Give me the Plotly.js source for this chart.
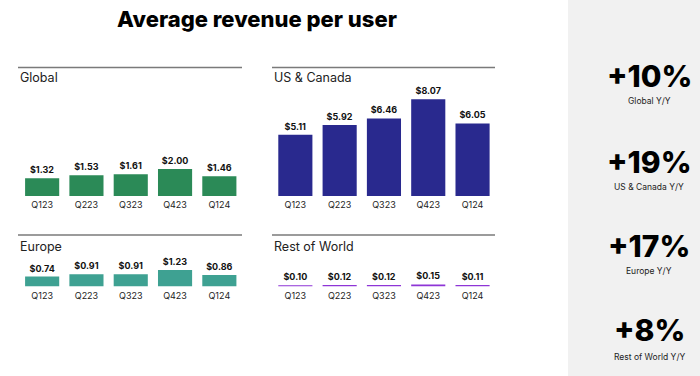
<!DOCTYPE html>
<html><head><meta charset="utf-8">
<script src="https://cdn.plot.ly/plotly-3.0.1.min.js"></script>
<style>html,body{margin:0;padding:0;background:#fff}#chart{width:700px;height:376px}</style>
</head><body><div id="chart"></div>
<script>
const quarters = ["Q123","Q223","Q323","Q423","Q124"];
const globalArpu = [1.32,1.53,1.61,2.00,1.46];
const usCanadaArpu = [5.11,5.92,6.46,8.07,6.05];
const europeArpu = [0.74,0.91,0.91,1.23,0.86];
const restOfWorldArpu = [0.10,0.12,0.12,0.15,0.11];
const panelTitles = ["Global","US & Canada","Europe","Rest of World"];
const statValues = ["+10%","+19%","+17%","+8%"];
const statLabels = ["Global Y/Y","US & Canada Y/Y","Europe Y/Y","Rest of World Y/Y"];

const W=700,H=376,F="Inter, 'Noto Sans', sans-serif";
const px=x=>x/W, py=y=>1-y/H;
function fmt(v){return "$"+v.toFixed(2);}
function bar(vals,color,xa,ya){
  return {type:"bar",x:quarters,y:vals,xaxis:xa,yaxis:ya,marker:{color:color},
    text:vals.map(fmt),textposition:"outside",cliponaxis:false,
    textfont:{family:F,size:9,color:"#111",weight:700},hoverinfo:"skip",width:0.77};
}
const data=[
  bar(globalArpu,"#2b8a57","x","y"),
  bar(usCanadaArpu,"#29298e","x2","y2"),
  bar(europeArpu,"#3ea192","x3","y3"),
  bar(restOfWorldArpu,"#8e35d6","x4","y4")
];
const leftDom=[px(20),px(241.5)], rightDom=[px(273.2),px(494.7)];
const topDom=[py(196),py(86)], botDom=[py(286.5),py(246)];
function xa(dom,anchor){return {domain:dom,anchor:anchor,showgrid:false,zeroline:false,showline:false,ticks:"",
  tickfont:{family:F,size:9,color:"#222"},fixedrange:true,ticklabelstandoff:2};}
function ya(dom,anchor,r){return {domain:dom,anchor:anchor,range:r,visible:false,fixedrange:true};}
const layout={
  width:W,height:H,margin:{l:0,r:0,t:0,b:0},paper_bgcolor:"#fff",plot_bgcolor:"rgba(0,0,0,0)",
  showlegend:false,bargap:0.23,
  title:{text:"Average revenue per user",x:px(257),xanchor:"center",y:py(19),yanchor:"middle",
    font:{family:F,size:22,color:"#000",weight:800}},
  xaxis:xa(leftDom,"y"), yaxis:ya(topDom,"x",[0,110/13.5]),
  xaxis2:xa(rightDom,"y2"), yaxis2:ya(topDom,"x2",[0,110/12]),
  xaxis3:xa(leftDom,"y3"), yaxis3:ya(botDom,"x3",[0,40.5/13.5]),
  xaxis4:xa(rightDom,"y4"), yaxis4:ya(botDom,"x4",[0,40.5/13.5]),
  shapes:[
    {type:"rect",xref:"paper",yref:"paper",x0:px(568),x1:1,y0:0,y1:1,fillcolor:"#f1f1f1",line:{width:0},layer:"below"},
    {type:"line",xref:"paper",yref:"paper",x0:px(18),x1:px(242),y0:py(67.5),y1:py(67.5),line:{color:"#7a7a7a",width:1.3}},
    {type:"line",xref:"paper",yref:"paper",x0:px(272),x1:px(495),y0:py(67.5),y1:py(67.5),line:{color:"#7a7a7a",width:1.3}},
    {type:"line",xref:"paper",yref:"paper",x0:px(18),x1:px(242),y0:py(235),y1:py(235),line:{color:"#7a7a7a",width:1.3}},
    {type:"line",xref:"paper",yref:"paper",x0:px(272),x1:px(495),y0:py(235),y1:py(235),line:{color:"#7a7a7a",width:1.3}}
  ],
  annotations:[]
};
const titlePos=[[18,78],[272,78],[18,246],[272,246]];
panelTitles.forEach((t,i)=>layout.annotations.push({text:t,xref:"paper",yref:"paper",x:px(titlePos[i][0]),y:py(titlePos[i][1]),
  xanchor:"left",yanchor:"middle",showarrow:false,font:{family:F,size:12.5,color:"#222"}}));
const statY=[[76,101],[162,187],[246,271],[330,357]];
statValues.forEach((t,i)=>{
  layout.annotations.push({text:t,xref:"paper",yref:"paper",x:px(649),y:py(statY[i][0]),xanchor:"center",yanchor:"middle",
    showarrow:false,font:{family:F,size:30,color:"#000",weight:800}});
  layout.annotations.push({text:statLabels[i],xref:"paper",yref:"paper",x:px(649),y:py(statY[i][1]),xanchor:"center",yanchor:"middle",
    showarrow:false,font:{family:F,size:8.5,color:"#222"}});
});
Plotly.newPlot("chart",data,layout,{displayModeBar:false,staticPlot:true});
</script></body></html>
